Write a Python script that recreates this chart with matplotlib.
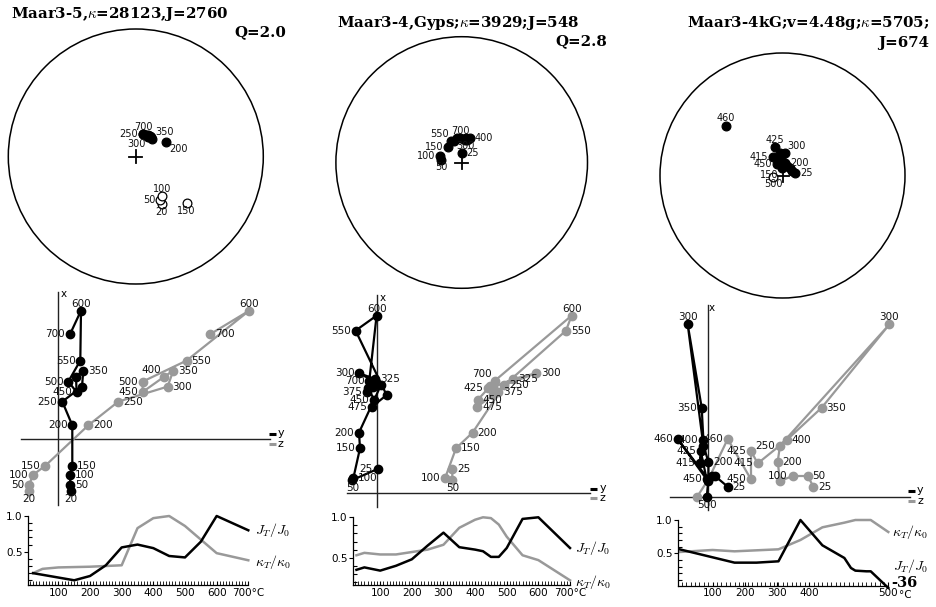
import numpy as np
import matplotlib
matplotlib.use("Agg")
import matplotlib.pyplot as plt
from matplotlib.patches import Circle
from matplotlib.ticker import FixedLocator, MultipleLocator

plt.rcParams['mathtext.fontset'] = 'cm'
plt.rcParams['font.family'] = ['DejaVu Sans']

TITLE_FAM = ['DejaVu Serif']

# ================= DATA =================
# Titles
titleA = r'Maar3-5,$\kappa$=28123,J=2760'
qA = 'Q=2.0'
titleB = r'Maar3-4,Gyps;$\kappa$=3929;J=548'
qB = 'Q=2.8'
titleC1 = r'Maar3-4kG;v=4.48g;$\kappa$=5705;'
titleC2 = 'J=674'
page_no = '-36'

# Stereonet data: temperature, declination, inclination (deg)
stA_T = [20, 50, 100, 150, 200, 250, 300, 350, 400, 450, 500, 550, 600, 700]
stA_D = [151.6, 150.9, 146.1, 132.6, 63.9, 17.0, 32.3, 43.8, 38.0, 35.0, 28.0, 30.0, 25.0, 18.5]
stA_I = [-55.0, -58.0, -59.4, -45.0, 68.5, 75.0, 75.0, 74.8, 74.0, 74.0, 75.0, 74.5, 75.0, 74.9]

stB_T = [25, 50, 100, 150, 200, 250, 300, 350, 400, 450, 500, 550, 600, 700]
stB_D = [0.0, 278.0, 287.0, 320.0, 340.0, 5.0, 10.0, 15.0, 19.0, 12.0, 8.0, 334.0, 350.0, 356.0]
stB_I = [84.0, 76.6, 75.3, 76.6, 75.5, 74.5, 74.0, 74.0, 73.5, 75.0, 75.0, 74.9, 74.0, 74.3]

stC_T = [25, 50, 100, 150, 200, 250, 300, 350, 400, 415, 425, 450, 460, 500]
stC_D = [77.4, 64.0, 46.0, 353.0, 11.6, 27.0, 6.0, 354.0, 353.7, 333.0, 345.4, 336.0, 311.3, 262.6]
stC_I = [81.5, 83.0, 83.0, 85.2, 81.7, 83.0, 74.8, 78.6, 75.0, 76.5, 70.2, 81.6, 38.2, -83.9]

# Zijderveld data: X (vertical, shared), Y (black), Z (grey)
zA_T = [20, 50, 100, 150, 200, 250, 300, 350, 400, 450, 500, 550, 600, 700]
zA_X = [-51.7, -45.3, -35.3, -26.7, 14.0, 37.7, 52.7, 68.7, 62.7, 47.3, 57.7, 78.7, 128.7, 105.0]
zA_Y = [12.7, 12.0, 11.7, 14.0, 14.0, 4.0, 23.7, 25.0, 17.7, 18.3, 10.0, 22.0, 22.7, 11.7]
zA_Z = [-29.0, -29.3, -25.0, -13.3, 30.0, 60.0, 109.3, 115.0, 106.0, 84.3, 84.3, 128.3, 191.0, 151.7]

zB_T = [25, 50, 100, 150, 200, 250, 300, 325, 350, 375, 400, 425, 450, 475, 500, 550, 600, 700]
zB_X = [24.3, 13.3, 15.0, 45.0, 60.7, 108.3, 120.0, 114.3, 106.0, 101.0, 107.3, 105.0, 93.3, 86.7, 98.3, 162.7, 177.7, 112.7]
zB_Y = [0.3, -25.0, -24.0, -17.3, -18.3, 3.7, -18.0, -2.3, -4.0, -10.7, -7.3, -9.0, -3.0, -5.0, 9.3, -21.7, -0.7, -8.0]
zB_Z = [75.0, 75.0, 67.7, 78.7, 95.3, 127.0, 158.7, 136.0, 116.0, 121.0, 112.7, 111.0, 100.3, 100.0, 116.0, 188.7, 194.3, 117.7]

zC_T = [25, 50, 100, 150, 200, 250, 300, 350, 400, 415, 425, 450, 460, 475, 500]
zC_X = [10.0, 20.7, 20.7, 15.7, 35.0, 51.0, 172.3, 89.0, 56.7, 33.3, 45.7, 17.3, 57.7, 17.3, -0.7]
zC_Y = [20.0, 7.3, 4.0, 0.7, 0.7, -4.3, -20.0, -6.0, -4.3, -7.7, -7.0, -1.0, -30.0, 0.7, -1.0]
zC_Z = [105.7, 100.0, 85.0, 72.3, 70.0, 72.3, 181.7, 114.0, 79.0, 50.0, 43.3, 43.3, 20.0, 0.7, -11.0]

# Normalised intensity / susceptibility curves
jA_T = [20, 150, 200, 250, 300, 350, 400, 450, 500, 550, 600, 700]
jA_V = [0.20, 0.10, 0.16, 0.31, 0.56, 0.60, 0.55, 0.44, 0.42, 0.64, 1.00, 0.80]
kA_T = [20, 50, 100, 200, 300, 350, 400, 450, 500, 600, 700]
kA_V = [0.20, 0.26, 0.28, 0.29, 0.31, 0.83, 0.97, 1.00, 0.86, 0.48, 0.38]

jB_T = [25, 50, 100, 150, 200, 250, 300, 350, 400, 425, 450, 475, 500, 550, 600, 700]
jB_V = [0.35, 0.38, 0.34, 0.40, 0.48, 0.65, 0.81, 0.63, 0.60, 0.58, 0.51, 0.51, 0.62, 0.98, 1.00, 0.62]
kB_T = [25, 50, 100, 150, 200, 250, 300, 350, 400, 425, 450, 475, 500, 550, 600, 700]
kB_V = [0.53, 0.56, 0.54, 0.54, 0.57, 0.60, 0.66, 0.87, 0.97, 1.00, 0.99, 0.91, 0.76, 0.53, 0.47, 0.22]

jC_T = [25, 150, 200, 250, 300, 350, 400, 415, 425, 450, 460, 500]
jC_V = [0.56, 0.36, 0.36, 0.38, 1.00, 0.62, 0.43, 0.28, 0.24, 0.23, 0.23, -0.02]
kC_T = [25, 100, 150, 250, 300, 350, 400, 425, 460, 500]
kC_V = [0.52, 0.55, 0.53, 0.56, 0.70, 0.89, 0.96, 1.00, 1.00, 0.82]

xtA = ['100', '200', '300', '400', '500', '600', '700°C']
xtC = ['100', '200', '300', '400', '500']

# ================= STYLE / LAYOUT =================
W, H = 936, 607
GREY = '#999999'
fig = plt.figure(figsize=(W / 100, H / 100), dpi=100)


def box(x0, y0, x1, y1):
    return fig.add_axes([x0 / W, 1 - y1 / H, (x1 - x0) / W, (y1 - y0) / H])


def ftext(x, y, s, **kw):
    fig.text(x / W, 1 - y / H, s, **kw)


OFF = {'left': (-3.5, 0, 'right', 'center'), 'right': (3.5, 0, 'left', 'center'),
       'top': (0, 1.5, 'center', 'bottom'), 'bottom': (0, -2, 'center', 'top'),
       'tl': (-2, 1.5, 'right', 'bottom'), 'tr': (2, 1.5, 'left', 'bottom'),
       'bl': (-2, -1.5, 'right', 'top'), 'br': (2, -1.5, 'left', 'top')}


def lab(ax, t, x, y, side, fs):
    dx, dy, ha, va = OFF[side]
    ax.annotate(str(t), (x, y), xytext=(dx, dy), textcoords='offset points',
                ha=ha, va=va, fontsize=fs, color='#111111', annotation_clip=False)


def stereonet(cx, cy, R, T, D, I, labels):
    pad = 1.12
    ax = box(cx - R * pad, cy - R * pad, cx + R * pad, cy + R * pad)
    ax.set_xlim(-pad, pad)
    ax.set_ylim(-pad, pad)
    ax.set_axis_off()
    ax.add_patch(Circle((0, 0), 1, fill=False, lw=1.1, color='black', clip_on=False))
    c = 6.5 / R
    ax.plot([-c, c], [0, 0], color='k', lw=1.3, clip_on=False)
    ax.plot([0, 0], [-c, c], color='k', lw=1.3, clip_on=False)
    Dr = np.radians(D)
    Ia = np.asarray(I, dtype=float)
    r = np.sqrt(2) * np.sin(np.radians(90 - np.abs(Ia)) / 2)
    x = r * np.sin(Dr)
    y = r * np.cos(Dr)
    for xi, yi, ii in zip(x, y, Ia):
        ax.plot(xi, yi, 'o', ms=6.3, mfc='k' if ii >= 0 else 'white', mec='k',
                mew=0.9, clip_on=False)
    for t, xi, yi in zip(T, x, y):
        if t in labels:
            lab(ax, t, xi, yi, labels[t], 7)


def zij(bx, origin, vext, hext, T, X, Y, Z, lb, lg, leg, xpos):
    x0, y0, x1, y1 = bx
    ox, oy = origin
    ax = box(x0, y0, x1, y1)
    ax.set_xlim(x0 - ox, x1 - ox)
    ax.set_ylim(oy - y1, oy - y0)
    ax.set_axis_off()
    ax.plot([0, 0], [oy - vext[1], oy - vext[0]], color='#222222', lw=1.0)
    ax.plot([hext[0] - ox, hext[1] - ox], [0, 0], color='#222222', lw=1.0)
    ax.text(xpos[0] - ox, oy - xpos[1], 'x', fontsize=7.5, ha='left', va='center')
    lx0, lx1, lyb, lyg = leg
    ax.plot([lx0 - ox, lx1 - ox], [oy - lyb] * 2, color='k', lw=2.2, solid_capstyle='butt')
    ax.plot([lx0 - ox, lx1 - ox], [oy - lyg] * 2, color=GREY, lw=2.2, solid_capstyle='butt')
    ax.text(lx1 + 2 - ox, oy - lyb + 1, 'y', fontsize=8, ha='left', va='center')
    ax.text(lx1 + 2 - ox, oy - lyg, 'z', fontsize=8, ha='left', va='center')
    ax.plot(Z, X, '-o', color=GREY, ms=6, lw=1.6, clip_on=False)
    ax.plot(Y, X, '-o', color='k', ms=6, lw=1.6, clip_on=False)
    for t, xv, yv, zv in zip(T, X, Y, Z):
        if t in lb:
            lab(ax, t, yv, xv, lb[t], 7.5)
        if t in lg:
            lab(ax, t, zv, xv, lg[t], 7.5)


def curves(bx, xlim, ylim, JT, JV, KT, KV, ticks, tlabels, jpos, kpos, minor_y):
    ax = box(*bx)
    ax.set_xlim(*xlim)
    ax.set_ylim(*ylim)
    ax.plot(KT, KV, color=GREY, lw=1.8, clip_on=False)
    ax.plot(JT, JV, color='k', lw=1.8, clip_on=False)
    for s in ('top', 'right'):
        ax.spines[s].set_visible(False)
    for s in ('left', 'bottom'):
        ax.spines[s].set_linewidth(0.9)
    ax.set_yticks([0.5, 1.0])
    ax.set_yticklabels(['0.5', '1.0'])
    ax.yaxis.set_minor_locator(FixedLocator(minor_y))
    ax.tick_params(axis='y', which='major', direction='out', length=3, width=0.8,
                   labelsize=7.5, pad=1)
    ax.tick_params(axis='y', which='minor', direction='in', length=3, width=0.8)
    ax.set_xticks(ticks)
    ax.set_xticklabels(tlabels)
    ax.xaxis.set_minor_locator(MultipleLocator(10))
    ax.tick_params(axis='x', which='major', direction='in', length=3, width=0.8,
                   labelsize=7.5, pad=2)
    ax.tick_params(axis='x', which='minor', direction='in', length=3, width=0.6)
    ftext(jpos[0], jpos[1], r'$J_T/J_0$', fontsize=10, ha='left', va='center')
    ftext(kpos[0], kpos[1], r'$\kappa_T/\kappa_0$', fontsize=10, ha='left', va='center')
    return ax


# ---- titles ----
TFS = 10.8
ftext(11, 14, titleA, fontsize=TFS, family=TITLE_FAM, weight='bold', ha='left', va='center')
ftext(286, 32, qA, fontsize=TFS, family=TITLE_FAM, weight='bold', ha='right', va='center')
ftext(337, 23, titleB, fontsize=TFS, family=TITLE_FAM, weight='bold', ha='left', va='center')
ftext(607, 41, qB, fontsize=TFS, family=TITLE_FAM, weight='bold', ha='right', va='center')
ftext(929, 23, titleC1, fontsize=TFS, family=TITLE_FAM, weight='bold', ha='right', va='center')
ftext(929, 43, titleC2, fontsize=TFS, family=TITLE_FAM, weight='bold', ha='right', va='center')
ftext(917, 583, page_no, fontsize=10.5, family=TITLE_FAM, weight='bold', ha='right', va='center')

# ---- stereonets ----
stereonet(135.8, 156.5, 127.5, stA_T, stA_D, stA_I,
          {700: 'top', 250: 'left', 300: 'bl', 350: 'tr', 200: 'br',
           100: 'top', 50: 'left', 20: 'bottom', 150: 'bottom'})
stereonet(461.7, 162.5, 125.8, stB_T, stB_D, stB_I,
          {700: 'top', 550: 'tl', 150: 'left', 100: 'left', 50: 'bottom',
           400: 'right', 25: 'right', 300: 'bottom'})
stereonet(782.5, 175.5, 122.5, stC_T, stC_D, stC_I,
          {460: 'top', 425: 'top', 300: 'tr', 415: 'left', 450: 'left',
           150: 'bl', 200: 'right', 25: 'right', 500: 'bottom'})

# ---- Zijderveld diagrams ----
zij((0, 285, 312, 512), (58.3, 439.3), (291.7, 505), (21, 270),
    zA_T, zA_X, zA_Y, zA_Z,
    {600: 'top', 700: 'left', 550: 'left', 350: 'right', 500: 'left', 450: 'left',
     250: 'left', 200: 'left', 150: 'right', 100: 'right', 50: 'right', 20: 'bottom'},
    {600: 'top', 700: 'right', 550: 'right', 350: 'right', 400: 'tl', 500: 'left',
     450: 'left', 300: 'right', 250: 'right', 200: 'right', 150: 'left', 100: 'left',
     50: 'left', 20: 'bottom'},
    (269.3, 276, 434, 444), (61, 294))

zij((320, 285, 625, 512), (377.3, 493.3), (295, 507), (346.7, 590),
    zB_T, zB_X, zB_Y, zB_Z,
    {600: 'top', 550: 'left', 300: 'left', 700: 'left', 325: 'right', 375: 'left',
     450: 'left', 475: 'left', 200: 'left', 150: 'left', 25: 'left', 100: 'right',
     50: 'bottom'},
    {600: 'top', 550: 'right', 300: 'right', 325: 'right', 250: 'right', 700: 'tl',
     425: 'left', 375: 'right', 450: 'right', 475: 'right', 200: 'right', 150: 'right',
     25: 'right', 100: 'left', 50: 'bottom'},
    (590, 597.3, 489, 498.3), (379.3, 298.3))

zij((640, 290, 936, 512), (707.7, 496.7), (305, 510), (670, 910),
    zC_T, zC_X, zC_Y, zC_Z,
    {300: 'top', 350: 'left', 460: 'left', 400: 'left', 425: 'left', 415: 'left',
     200: 'right', 450: 'left', 25: 'right', 500: 'bottom'},
    {300: 'top', 350: 'right', 460: 'left', 400: 'right', 250: 'left', 425: 'left',
     415: 'left', 200: 'right', 450: 'left', 100: 'left', 50: 'right', 25: 'right'},
    (908.3, 915, 490.7, 500.7), (709, 308.3))

# ---- normalised curves ----
curves((28.3, 516, 248.3, 585), (5, 700), (0.034, 1.0), jA_T, jA_V, kA_T, kA_V,
       [100, 200, 300, 400, 500, 600, 700], xtA, (255, 530), (255, 562),
       [0.1, 0.2, 0.3, 0.4, 0.6, 0.7, 0.8, 0.9])
curves((353.3, 517.3, 570, 585), (15, 700), (0.162, 1.0), jB_T, jB_V, kB_T, kB_V,
       [100, 200, 300, 400, 500, 600, 700], xtA, (575, 548), (575, 582),
       [0.2, 0.3, 0.4, 0.6, 0.7, 0.8, 0.9])
curves((678.3, 520, 888.3, 585.7), (22, 500), (0.014, 1.0), jC_T, jC_V, kC_T, kC_V,
       [100, 173, 247, 320, 500], xtC, (893, 566), (892, 532),
       [0.1, 0.2, 0.3, 0.4, 0.6, 0.7, 0.8, 0.9])
ftext(899, 595, '°C', fontsize=7.5, ha='left', va='center')

fig.savefig('out.png', dpi=100)
